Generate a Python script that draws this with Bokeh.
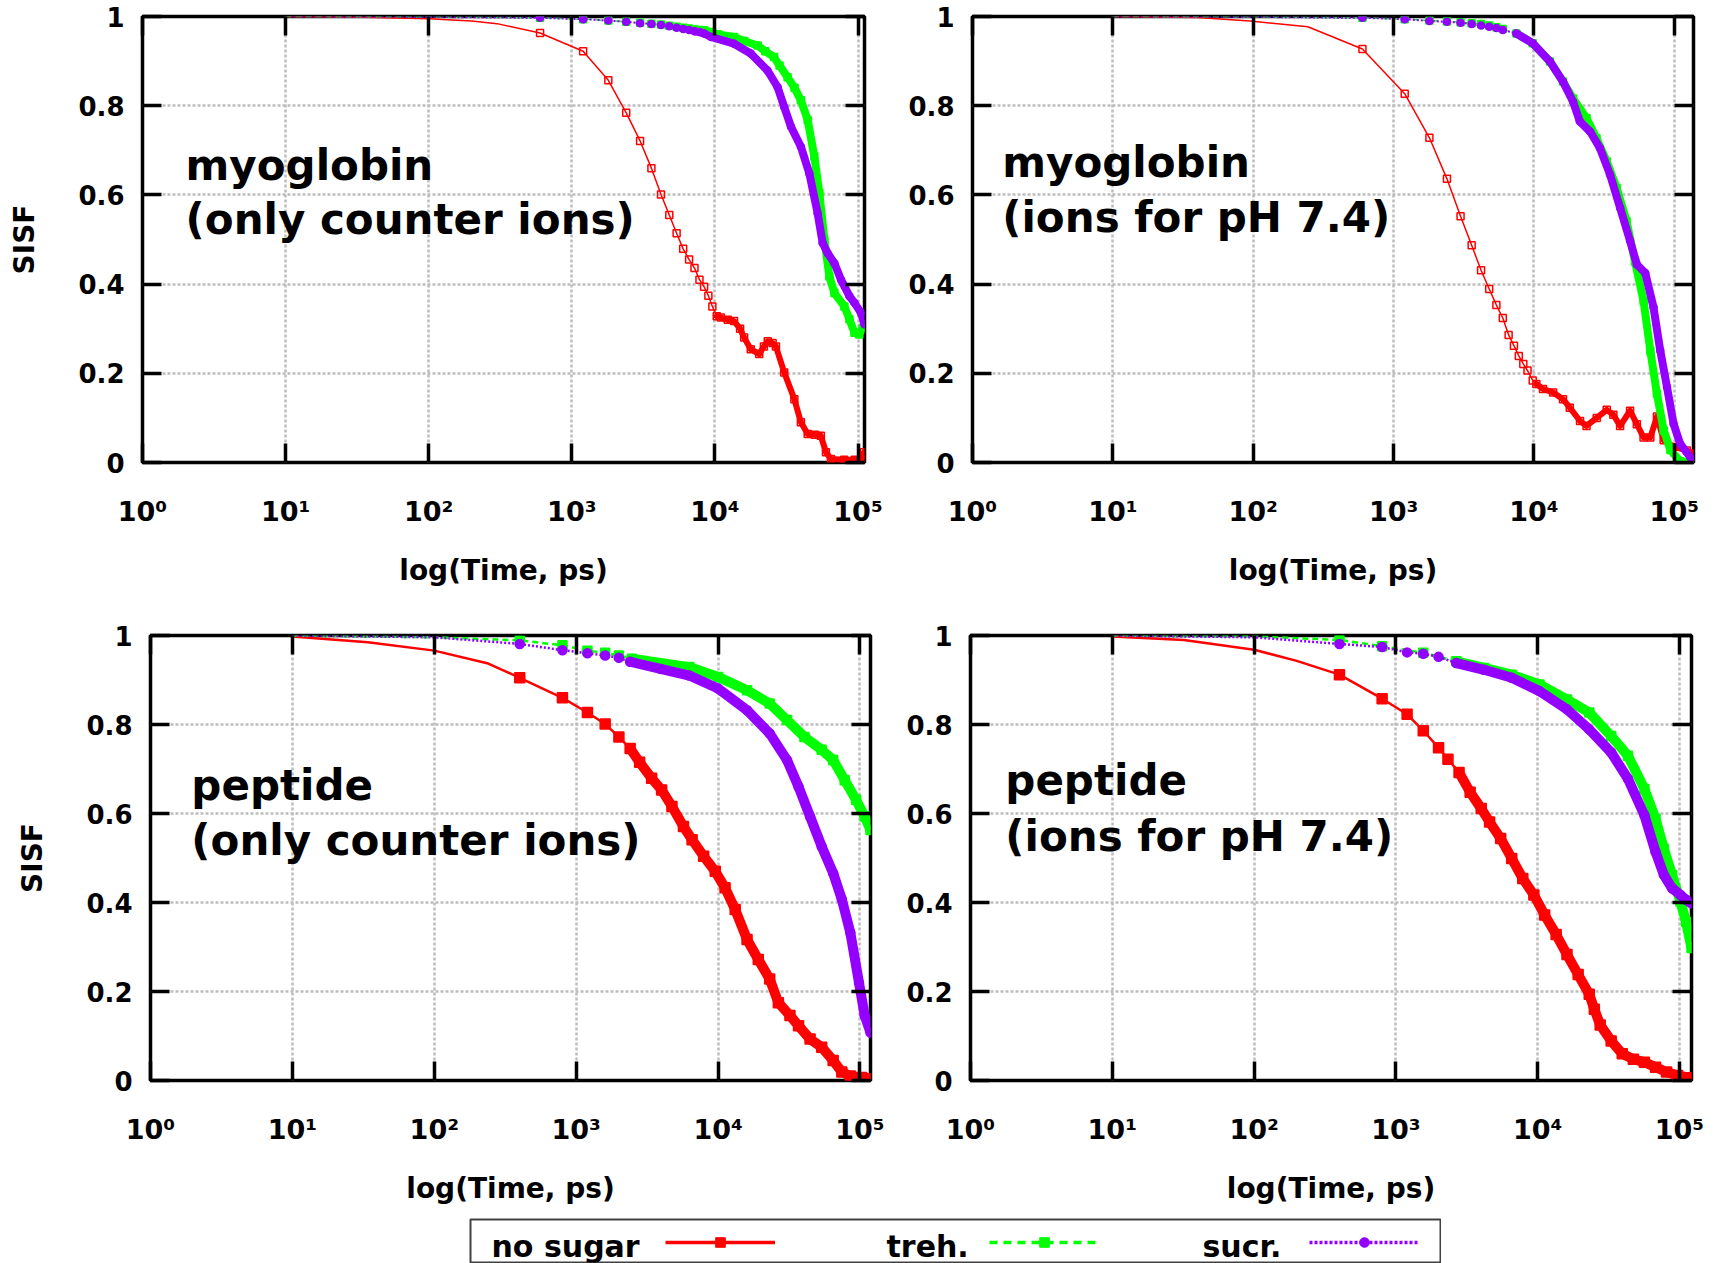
from bokeh.core.properties import value
from bokeh.embed import file_html
from bokeh.layouts import column, row
from bokeh.models import (FixedTicker, Label, Legend, LegendItem, LinearAxis,
                          LogAxis, Range1d, Spacer)
from bokeh.plotting import figure
from bokeh.resources import INLINE

FONT = "DejaVu Sans"
RED, GREEN, PURPLE = "#ff0000", "#00ff00", "#9400ff"

X_TICKS = [1, 10, 100, 1000, 10000, 100000]
X_TICK_LABELS = ["10⁰", "10¹", "10²", "10³", "10⁴", "10⁵"]
Y_TICKS = [0, 0.2, 0.4, 0.6, 0.8, 1.0]
Y_TICK_LABELS = ["0", "0.2", "0.4", "0.6", "0.8", "1"]
X_LABEL = "log(Time, ps)"
Y_LABEL = "SISF"
SERIES_NAMES = ["no sugar", "treh.", "sucr."]

# ---- myoglobin, only counter ions ------------------------------------------
MYO_CI_T_RED = [10, 30, 100, 200, 300, 600, 1200, 1800, 2400, 3000, 3600, 4200,
                4800, 5400, 6000, 6600, 7200, 7800, 8400, 9000, 9600, 10300,
                11000, 12300, 13600, 15000, 16000, 17800, 20400, 22000, 23400,
                25300, 26700, 30500, 35900, 39900, 44500, 50000, 55000, 59700,
                64700, 80000, 95000, 105000, 110000]
MYO_CI_V_RED = [1.0, 0.999, 0.995, 0.99, 0.984, 0.963, 0.922, 0.857, 0.784,
                0.721, 0.660, 0.601, 0.555, 0.514, 0.479, 0.455, 0.436, 0.410,
                0.394, 0.374, 0.350, 0.328, 0.325, 0.320, 0.317, 0.300, 0.280,
                0.254, 0.243, 0.260, 0.272, 0.268, 0.260, 0.202, 0.142, 0.090,
                0.064, 0.062, 0.060, 0.023, 0.008, 0.006, 0.006, 0.006, 0.023]
MYO_CI_T_GRN = [10, 100, 600, 1200, 1800, 2400, 3000, 3600, 4200, 4800, 5400,
                6000, 6600, 7200, 7800, 8400, 9400, 10500, 13600, 16000, 19900,
                22500, 25900, 28300, 32200, 36000, 39900, 44500, 49500, 53700,
                58200, 63100, 68400, 80300, 87100, 94400, 102000, 108000]
MYO_CI_V_GRN = [1.0, 0.999, 0.997, 0.994, 0.991, 0.988, 0.986, 0.984, 0.982,
                0.979, 0.977, 0.975, 0.973, 0.971, 0.970, 0.969, 0.965, 0.960,
                0.954, 0.945, 0.935, 0.922, 0.909, 0.890, 0.864, 0.840, 0.812,
                0.768, 0.686, 0.604, 0.499, 0.417, 0.380, 0.350, 0.321, 0.291,
                0.287, 0.302]
MYO_CI_T_PUR = [10, 100, 600, 1200, 1800, 2400, 3000, 3600, 4200, 4800, 5400,
                6000, 6600, 7200, 7800, 8400, 9400, 13600, 17800, 23300, 27400,
                30500, 34000, 39900, 45700, 52200, 56600, 61400, 68400, 76000,
                87100, 94400, 104700, 111000]
MYO_CI_V_PUR = [1.0, 0.999, 0.997, 0.994, 0.991, 0.988, 0.985, 0.983, 0.981,
                0.978, 0.975, 0.972, 0.970, 0.967, 0.965, 0.962, 0.954, 0.939,
                0.917, 0.879, 0.842, 0.797, 0.753, 0.708, 0.648, 0.559, 0.492,
                0.469, 0.447, 0.410, 0.373, 0.358, 0.336, 0.310]

# ---- myoglobin, ions for pH 7.4 --------------------------------------------
MYO_PH_T_RED = [10, 40, 95, 245, 600, 1200, 1800, 2400, 3000, 3600, 4200, 4800,
                5400, 6000, 6600, 7200, 7800, 8400, 9000, 9800, 10400, 11600,
                13700, 16100, 18000, 21300, 23700, 28000, 33000, 36800, 41100,
                48400, 54100, 60400, 67500, 75200, 84000, 99000, 123000, 137000]
MYO_PH_V_RED = [1.0, 0.998, 0.99, 0.977, 0.927, 0.827, 0.728, 0.636, 0.552,
                0.487, 0.431, 0.389, 0.353, 0.324, 0.286, 0.262, 0.239, 0.221,
                0.206, 0.184, 0.176, 0.165, 0.157, 0.142, 0.123, 0.093, 0.082,
                0.100, 0.118, 0.107, 0.082, 0.116, 0.086, 0.056, 0.056, 0.103,
                0.050, 0.035, 0.027, 0.020]
MYO_PH_T_GRN = [10, 100, 600, 1200, 1800, 2400, 3000, 3600, 4200, 4800, 5400,
                6000, 7500, 9800, 13000, 16100, 19000, 23700, 27900, 33000,
                38900, 45700, 52500, 60400, 67500, 75200, 84000, 93800, 110000,
                130000, 137000]
MYO_PH_V_GRN = [1.0, 0.999, 0.997, 0.994, 0.991, 0.989, 0.987, 0.985, 0.983,
                0.980, 0.976, 0.972, 0.962, 0.940, 0.899, 0.854, 0.816, 0.772,
                0.727, 0.675, 0.615, 0.541, 0.450, 0.362, 0.250, 0.154, 0.072,
                0.028, 0.003, 0.0, 0.0]
MYO_PH_T_PUR = [10, 100, 600, 1200, 1800, 2400, 3000, 3600, 4200, 4800, 5400,
                6000, 7500, 9800, 13000, 16100, 19000, 21200, 25100, 29500,
                34800, 41100, 48400, 54100, 62100, 71100, 79400, 88700, 98800,
                110000, 130000, 137000]
MYO_PH_V_PUR = [1.0, 0.999, 0.997, 0.994, 0.990, 0.988, 0.986, 0.983, 0.980,
                0.977, 0.974, 0.970, 0.962, 0.940, 0.899, 0.854, 0.809, 0.765,
                0.742, 0.705, 0.646, 0.571, 0.497, 0.444, 0.425, 0.348, 0.251,
                0.169, 0.087, 0.042, 0.012, 0.006]

# ---- peptide, only counter ions --------------------------------------------
PEP_CI_T_RED = [10, 34, 100, 240, 400, 800, 1200, 1600, 2000, 2400, 2800, 3400,
                4000, 4730, 5700, 6560, 7910, 9550, 11200, 13200, 16000, 19200,
                23100, 26600, 32100, 36900, 44500, 53700, 64700, 74500, 85500,
                103000, 118600]
PEP_CI_V_RED = [0.998, 0.985, 0.966, 0.937, 0.905, 0.860, 0.827, 0.801, 0.772,
                0.746, 0.715, 0.679, 0.653, 0.616, 0.571, 0.541, 0.504, 0.470,
                0.433, 0.384, 0.317, 0.272, 0.228, 0.175, 0.146, 0.123, 0.093,
                0.075, 0.045, 0.019, 0.010, 0.007, 0.004]
PEP_CI_T_GRN = [10, 100, 400, 800, 1200, 1600, 2000, 2470, 6270, 10000, 16000,
                23100, 30600, 40600, 53700, 64700, 78000, 93800, 107900, 118600]
PEP_CI_V_GRN = [1.0, 0.996, 0.989, 0.978, 0.966, 0.961, 0.955, 0.948, 0.929,
                0.907, 0.877, 0.847, 0.810, 0.772, 0.743, 0.720, 0.675, 0.631,
                0.593, 0.563]
PEP_CI_T_PUR = [10, 100, 400, 800, 1200, 1600, 2000, 2400, 3930, 6270, 10000,
                16000, 23100, 30600, 36900, 44500, 53700, 64700, 74500, 85500,
                98400, 107900, 118600]
PEP_CI_V_PUR = [1.0, 0.996, 0.981, 0.967, 0.960, 0.955, 0.950, 0.941, 0.925,
                0.910, 0.881, 0.832, 0.780, 0.720, 0.660, 0.593, 0.526, 0.466,
                0.407, 0.332, 0.220, 0.146, 0.108]

# ---- peptide, ions for pH 7.4 ----------------------------------------------
PEP_PH_T_RED = [10, 32, 100, 200, 400, 800, 1200, 1560, 2000, 2330, 2790, 3340,
                4000, 4580, 5480, 6560, 7850, 9400, 11200, 13500, 16100, 19300,
                23100, 25100, 27600, 33000, 39500, 47300, 56600, 67800, 81100,
                97000, 121600]
PEP_PH_V_RED = [0.998, 0.99, 0.968, 0.943, 0.912, 0.858, 0.823, 0.786, 0.748,
                0.722, 0.692, 0.648, 0.611, 0.581, 0.544, 0.499, 0.454, 0.417,
                0.372, 0.328, 0.283, 0.238, 0.194, 0.160, 0.125, 0.089, 0.060,
                0.048, 0.041, 0.030, 0.019, 0.011, 0.006]
PEP_PH_T_GRN = [10, 100, 400, 800, 1560, 2670, 4190, 6560, 10300, 16100, 23100,
                33000, 43300, 56600, 67800, 77600, 88700, 101600, 111200, 121600]
PEP_PH_V_GRN = [1.0, 0.998, 0.990, 0.976, 0.961, 0.942, 0.927, 0.912, 0.890,
                0.856, 0.827, 0.774, 0.730, 0.655, 0.588, 0.521, 0.462, 0.402,
                0.357, 0.298]
PEP_PH_T_PUR = [10, 100, 400, 800, 1200, 1560, 2000, 2670, 4190, 6560, 10300,
                16100, 23100, 33000, 43300, 56600, 67800, 77600, 88700, 101600,
                111200, 121600]
PEP_PH_V_PUR = [1.0, 0.996, 0.981, 0.974, 0.962, 0.959, 0.952, 0.938, 0.923,
                0.905, 0.875, 0.834, 0.789, 0.737, 0.678, 0.596, 0.514, 0.462,
                0.432, 0.417, 0.406, 0.398]

# line / point styles: thin connecting line, points from mark_from on,
# and a thick stroke where the points crowd into a solid band
MYO_STYLES = [
    dict(color=RED, dash="solid", lw=1.5, marker="square", size=7, filled=False,
         mark_from=600, band_from=10000, band_w=6),
    dict(color=GREEN, dash="6 4", lw=1.5, marker="square", size=7, filled=True,
         mark_from=600, band_from=7000, band_w=8),
    dict(color=PURPLE, dash="2 2", lw=2, marker="circle", size=7, filled=True,
         mark_from=600, band_from=7000, band_w=8),
]
PEP_STYLES = [
    dict(color=RED, dash="solid", lw=2.5, marker="square", size=10, filled=True,
         mark_from=400, band_from=2400, band_w=10),
    dict(color=GREEN, dash="6 4", lw=2.5, marker="square", size=9, filled=True,
         mark_from=400, band_from=2400, band_w=10),
    dict(color=PURPLE, dash="2 2", lw=2.5, marker="circle", size=9, filled=True,
         mark_from=400, band_from=2400, band_w=10),
]


def add_series(p, t, v, st):
    p.line(t, v, line_color=st["color"], line_width=st["lw"], line_dash=st["dash"])
    band = [(a, b) for a, b in zip(t, v) if a >= st["band_from"]]
    if band:
        p.line([a for a, _ in band], [b for _, b in band], line_color=st["color"],
               line_width=st["band_w"], line_join="round", line_cap="round")
    pts = [(a, b) for a, b in zip(t, v) if a >= st["mark_from"]]
    p.scatter([a for a, _ in pts], [b for _, b in pts], marker=st["marker"],
              size=st["size"], line_color=st["color"], line_width=1.5,
              fill_color=st["color"] if st["filled"] else None)


def style_tick_axis(ax, ticks, labels, size="26px"):
    ax.axis_line_color = None
    ax.major_tick_in = 19
    ax.major_tick_out = 0
    ax.minor_tick_in = 0
    ax.minor_tick_out = 0
    ax.major_tick_line_width = 3.5
    ax.major_tick_line_color = "black"
    ax.major_label_text_font = FONT
    ax.major_label_text_font_style = "bold"
    ax.major_label_text_color = "black"
    if labels is not None:
        ax.major_label_text_font_size = size
        ax.major_label_overrides = dict(zip(ticks, labels))
    else:
        # mirrored ticks only: no tick text on this side
        ax.major_label_text_font_size = "2px"
        ax.major_label_overrides = {t: "" for t in ticks}
        ax.major_label_standoff = 0


def make_panel(width, height, borders, x_end, series, styles, lines, text_xy,
               ylabel):
    left, right, top, bottom = borders
    p = figure(width=width, height=height, x_axis_type="log",
               x_range=Range1d(1, x_end), y_range=Range1d(0, 1),
               output_backend="svg", toolbar_location=None,
               min_border_left=left, min_border_right=right,
               min_border_top=top, min_border_bottom=bottom,
               background_fill_color="white", border_fill_color="white")
    p.outline_line_color = "black"
    p.outline_line_width = 3.5
    p.outline_line_alpha = 1.0

    xt = FixedTicker(ticks=X_TICKS, minor_ticks=[])
    yt = FixedTicker(ticks=Y_TICKS, minor_ticks=[])

    xa = p.xaxis[0]
    xa.ticker = xt
    style_tick_axis(xa, X_TICKS, X_TICK_LABELS, "27px")
    xa.major_label_standoff = 33
    xa.axis_label = X_LABEL
    xa.axis_label_text_font = FONT
    xa.axis_label_text_font_style = "bold"
    xa.axis_label_text_font_size = "28px"
    xa.axis_label_text_color = "black"
    xa.axis_label_standoff = 24

    ya = p.yaxis[0]
    ya.ticker = yt
    style_tick_axis(ya, Y_TICKS, Y_TICK_LABELS)
    ya.major_label_standoff = 18
    if ylabel:
        ya.axis_label = Y_LABEL
        ya.axis_label_text_font = FONT
        ya.axis_label_text_font_style = "bold"
        ya.axis_label_text_font_size = "28px"
        ya.axis_label_text_color = "black"
        ya.axis_label_standoff = 34

    top_ax = LogAxis(ticker=xt)
    style_tick_axis(top_ax, X_TICKS, None)
    p.add_layout(top_ax, "above")
    right_ax = LinearAxis(ticker=yt)
    style_tick_axis(right_ax, Y_TICKS, None)
    p.add_layout(right_ax, "right")

    p.xgrid.ticker = xt
    p.ygrid.ticker = yt
    for g in (p.xgrid[0], p.ygrid[0]):
        g.grid_line_color = "#bdbdbd"
        g.grid_line_width = 2.5
        g.grid_line_dash = "3 2"

    for (t, v), st in zip(series, styles):
        add_series(p, t, v, st)

    (tx, ty1, ty2) = text_xy
    for txt, ty in zip(lines, (ty1, ty2)):
        p.add_layout(Label(x=tx, y=ty, text=txt, text_font=FONT,
                           text_font_style="bold", text_font_size="42px",
                           text_color="black", text_baseline="alphabetic"))
    return p


p1 = make_panel(900, 620, (142, 36, 16, 156), 111000,
                [(MYO_CI_T_RED, MYO_CI_V_RED), (MYO_CI_T_GRN, MYO_CI_V_GRN),
                 (MYO_CI_T_PUR, MYO_CI_V_PUR)], MYO_STYLES,
                ["myoglobin", "(only counter ions)"], (2.0, 0.667, 0.544), True)
p2 = make_panel(815, 620, (72, 22, 15, 158), 137000,
                [(MYO_PH_T_RED, MYO_PH_V_RED), (MYO_PH_T_GRN, MYO_PH_V_GRN),
                 (MYO_PH_T_PUR, MYO_PH_V_PUR)], MYO_STYLES,
                ["myoglobin", "(ions for pH 7.4)"], (1.63, 0.672, 0.549), False)
p3 = make_panel(900, 590, (150, 30, 15, 128), 118600,
                [(PEP_CI_T_RED, PEP_CI_V_RED), (PEP_CI_T_GRN, PEP_CI_V_GRN),
                 (PEP_CI_T_PUR, PEP_CI_V_PUR)], PEP_STYLES,
                ["peptide", "(only counter ions)"], (1.94, 0.664, 0.539), True)
p4 = make_panel(815, 590, (70, 24, 12, 130), 121600,
                [(PEP_PH_T_RED, PEP_PH_V_RED), (PEP_PH_T_GRN, PEP_PH_V_GRN),
                 (PEP_PH_T_PUR, PEP_PH_V_PUR)], PEP_STYLES,
                ["peptide", "(ions for pH 7.4)"], (1.76, 0.675, 0.549), False)

# ---- shared key below the panels -------------------------------------------
key = figure(width=972, height=53, x_range=Range1d(0, 970), y_range=Range1d(0, 43),
             output_backend="svg", toolbar_location=None,
             min_border_left=1, min_border_right=1, min_border_top=9,
             min_border_bottom=1)
key.extra_y_ranges = {"series": Range1d(5, 6)}
key.axis.visible = False
key.grid.visible = False
key.outline_line_color = "#404040"
key.outline_line_width = 2

KEY_GLYPHS = [
    dict(color=RED, dash="solid", marker="square", data=(PEP_CI_T_RED, PEP_CI_V_RED)),
    dict(color=GREEN, dash="8 6", marker="square", data=(PEP_CI_T_GRN, PEP_CI_V_GRN)),
    dict(color=PURPLE, dash="3 2", marker="circle", data=(PEP_CI_T_PUR, PEP_CI_V_PUR)),
]
KEY_TEXT_X = [21, 416, 732]
KEY_GLYPH_X = [195, 519, 839]
for name, g, tx, gx in zip(SERIES_NAMES, KEY_GLYPHS, KEY_TEXT_X, KEY_GLYPH_X):
    t, v = g["data"]
    # the key samples reuse the series data on a range where they stay out of view
    lr = key.line(t, v, y_range_name="series", line_color=g["color"],
                  line_width=3.5, line_dash=g["dash"])
    mr = key.scatter(t, v, y_range_name="series", marker=g["marker"],
                     line_color=g["color"], fill_color=g["color"])
    leg = Legend(items=[LegendItem(label=value(" "), renderers=[lr, mr])],
                 location=(gx, 8), orientation="horizontal", glyph_width=110,
                 glyph_height=24, padding=0, margin=0, spacing=0,
                 label_standoff=0, label_text_font_size="4px",
                 border_line_color=None, background_fill_alpha=0)
    key.add_layout(leg)
    key.add_layout(Label(x=tx, y=16, text=name, text_font=FONT,
                         text_font_style="bold", text_font_size="30px",
                         text_color="black", text_baseline="alphabetic"))

layout = column(row(p1, p2), row(p3, p4), row(Spacer(width=469, height=53), key),
                spacing=0)

open("out.html", "w").write(file_html(layout, INLINE, title="SISF"))
